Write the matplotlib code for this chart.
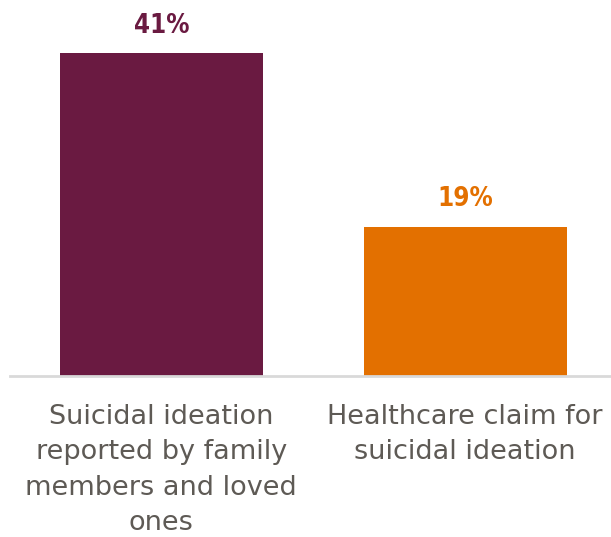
import matplotlib.pyplot as plt
from matplotlib.transforms import blended_transform_factory

categories = ["Suicidal ideation\nreported by family\nmembers and loved\nones",
              "Healthcare claim for\nsuicidal ideation"]
values = [41, 19]
labels = ["41%", "19%"]
colors = ["#6A1A41", "#E37000"]

fig = plt.figure(figsize=(6.11, 5.37), dpi=100)
ax = fig.add_axes([10/611, 161/537, 601/611, 376/537])

x = range(len(values))
ax.bar(x, values, width=0.668, color=colors)
ax.set_xlim(-0.498, 1.48)
ax.set_ylim(0, 47.8)

for i, v in enumerate(values):
    ax.text(i, v + 1.8, labels[i], ha="center", va="bottom", fontsize=18.5,
            fontweight="bold", fontstretch="condensed", color=colors[i],
            family="DejaVu Sans")

trans = blended_transform_factory(ax.transData, ax.transAxes)
for i, c in enumerate(categories):
    ax.text(i, -0.075, c, ha="center", va="top", fontsize=19.5, color="#5E5A55",
            linespacing=1.46, transform=trans)

for s in ["top", "right", "left"]:
    ax.spines[s].set_visible(False)
ax.spines["bottom"].set_color("#D9D9D9")
ax.spines["bottom"].set_linewidth(2)
ax.set_xticks([])
ax.set_yticks([])

fig.savefig("out.png", dpi=100)
